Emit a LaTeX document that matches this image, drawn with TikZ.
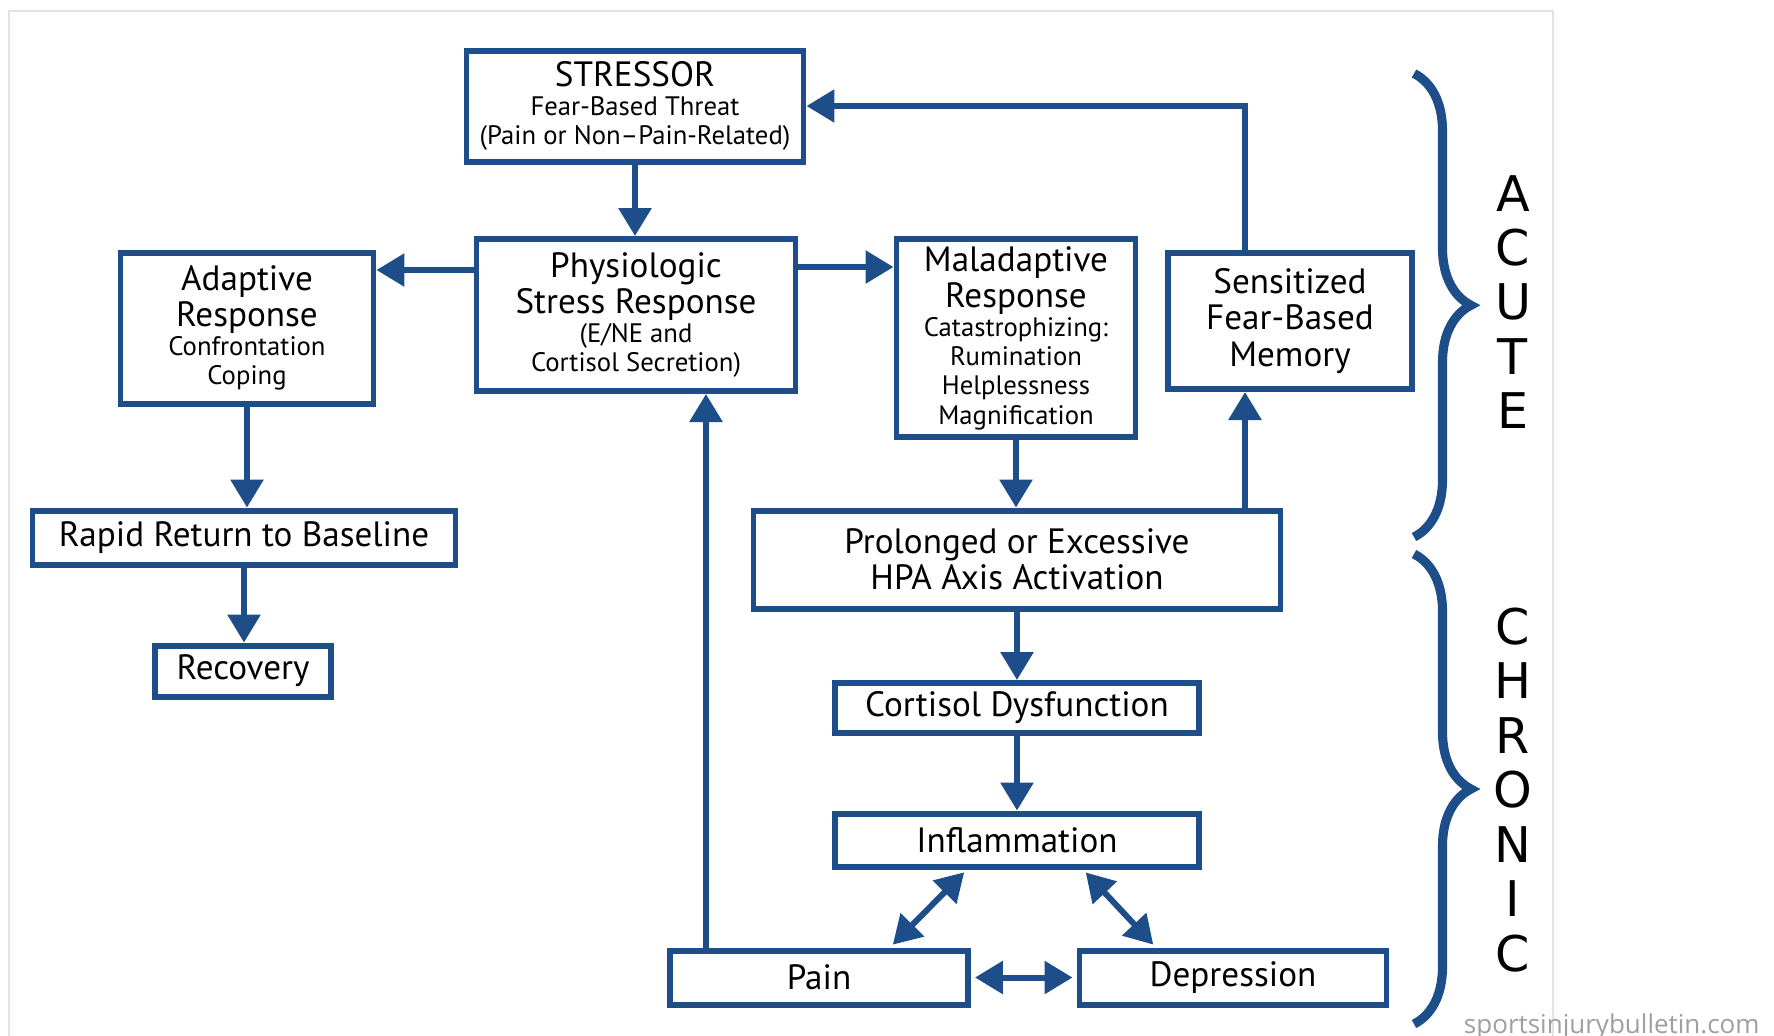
\documentclass[tikz,border=0pt]{standalone}
\usepackage{fontspec}
\setmainfont{PT Sans}
\newfontfamily\bracefont{DejaVu Sans}
\newfontfamily\creditfont{Open Sans}
\usetikzlibrary{arrows.meta, decorations.pathreplacing, calc}
\definecolor{stressblue}{RGB}{30,78,138}
\newcommand{\sm}{\fontsize{7.6}{8.2}\selectfont}

\begin{document}
\begin{tikzpicture}[
    box/.style={rectangle, draw=stressblue, line width=1.7pt, align=center, inner sep=0pt, font=\fontsize{10}{10.3}\selectfont},
    arrow/.style={-{Triangle[length=2.8mm, width=3.2mm]}, line width=1.7pt, draw=stressblue},
    twoway/.style={{Triangle[length=2.8mm, width=3.2mm]}-{Triangle[length=2.8mm, width=3.2mm]}, line width=1.7pt, draw=stressblue, shorten <=0.4mm, shorten >=0.4mm},
    stage/.style={decorate, decoration={brace, amplitude=5.7mm}, line width=2.6pt, draw=stressblue},
    stagelabel/.style={align=center, font=\bracefont\fontsize{14}{15.5}\selectfont},
    credit/.style={font=\creditfont\fontsize{7.4}{8}\selectfont, text=gray!75}
]
\useasboundingbox (0,0) rectangle (17.74,-10.35);

% Frame
\draw[gray!22, line width=0.8pt] (0.09,-0.11) rectangle (15.53,-10.6);

% Acute part
\node[box, minimum width=3.37cm, minimum height=1.11cm] (stressor) at (6.35,-1.06)
    {STRESSOR\\[-2pt] {\sm Fear-Based Threat}\\[-2pt] {\sm (Pain or Non--Pain-Related)}};
\node[box, minimum width=3.19cm, minimum height=1.52cm] (phys) at (6.36,-3.15)
    {Physiologic\\ Stress Response\\[-2pt] {\sm (E/NE and}\\[-2pt] {\sm Cortisol Secretion)}};
\node[box, minimum width=2.53cm, minimum height=1.51cm] (adapt) at (2.47,-3.28)
    {Adaptive\\ Response\\[-2pt] {\sm Confrontation}\\[-2pt] {\sm Coping}};
\node[box, minimum width=2.39cm, minimum height=1.98cm] (malad) at (10.16,-3.38)
    {Maladaptive\\ Response\\[-2pt] {\sm Catastrophizing:}\\[-2pt] {\sm Rumination}\\[-2pt] {\sm Helplessness}\\[-2pt] {\sm Magnification}};
\node[box, minimum width=2.44cm, minimum height=1.36cm] (sens) at (12.9,-3.21)
    {Sensitized\\ Fear-Based\\ Memory};
\node[box, minimum width=4.23cm, minimum height=0.54cm] (rapid) at (2.44,-5.375) {Rapid Return to Baseline};
\node[box, minimum width=1.76cm, minimum height=0.51cm] (recov) at (2.43,-6.71) {Recovery};

% Chronic part
\node[box, minimum width=5.27cm, minimum height=0.98cm] (prolong) at (10.17,-5.595)
    {Prolonged or Excessive\\ HPA Axis Activation};
\node[box, minimum width=3.64cm, minimum height=0.5cm] (cortisol) at (10.17,-7.08) {Cortisol Dysfunction};
\node[box, minimum width=3.64cm, minimum height=0.53cm] (inflam) at (10.17,-8.40) {Inflammation};
\node[box, minimum width=2.98cm, minimum height=0.54cm] (pain) at (8.19,-9.775) {Pain};
\node[box, minimum width=3.07cm, minimum height=0.54cm] (depress) at (12.33,-9.775) {Depression};

% Helper points
\coordinate (physleft) at ([yshift=-0.34cm]phys.north west);
\coordinate (physright) at ([yshift=-0.31cm]phys.north east);
\coordinate (memx) at (12.45,-1.06);
\coordinate (painup) at ([xshift=-1.13cm]pain.north);

% Arrows
\draw[arrow] (stressor.south) -- (stressor.south |- phys.north);
\draw[arrow] (physleft) -- (physleft -| adapt.east);
\draw[arrow] (physright) -- (physright -| malad.west);
\draw[arrow] (adapt.south) -- (adapt.south |- rapid.north);
\draw[arrow] (rapid.south) -- (rapid.south |- recov.north);
\draw[arrow] (malad.south) -- (malad.south |- prolong.north);
\draw[arrow] (prolong.north -| memx) -- (sens.south -| memx);
\draw[arrow] (sens.north -| memx) |- (stressor.east);
\draw[arrow] (painup) -- (painup |- phys.south);
\draw[arrow] (prolong.south) -- (cortisol.north);
\draw[arrow] (cortisol.south) -- (inflam.north);

% Two-way links
\draw[twoway] ([xshift=-5mm]inflam.south) -- ([xshift=7.1mm]pain.north);
\draw[twoway] ([xshift=6.6mm]inflam.south) -- ([xshift=-7.7mm]depress.north);
\draw[twoway] (pain.east) -- (depress.west);

% Braces
\draw[stage] (14.14,-0.735) -- (14.14,-5.37);
\draw[stage] (14.14,-5.54) -- (14.14,-10.24);
\node[stagelabel] (acute) at (15.13,-3.02) {A\\ C\\ U\\ T\\ E};
\node[stagelabel] (chronic) at (15.13,-7.90) {C\\ H\\ R\\ O\\ N\\ I\\ C};

% Source
\node[credit, anchor=base east] (source) at (17.72,-10.33) {sportsinjurybulletin.com};
\end{tikzpicture}
\end{document}
